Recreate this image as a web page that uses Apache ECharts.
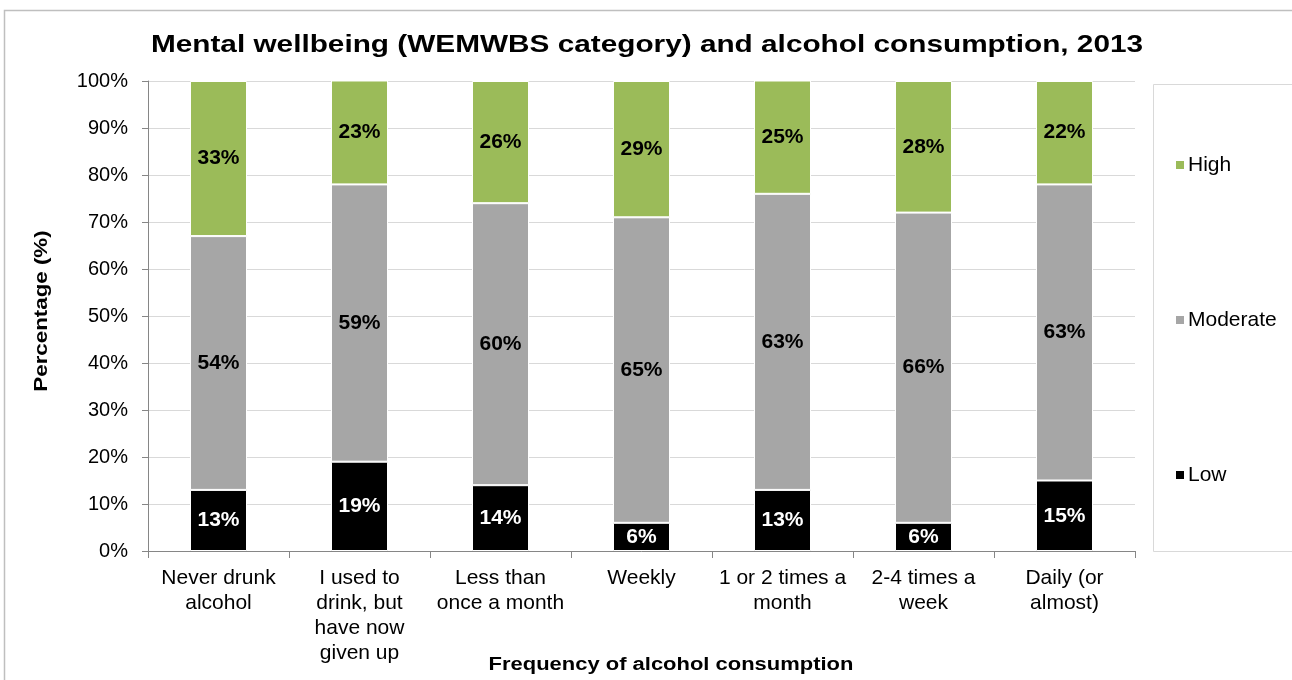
<!DOCTYPE html>
<html>
<head>
<meta charset="utf-8">
<script src="https://cdn.jsdelivr.net/npm/echarts@6/dist/echarts.min.js"></script>
<style>
  html, body { margin: 0; padding: 0; background: #fff; }
  #chart { width: 1292px; height: 680px; }
</style>
</head>
<body>
<div id="chart"></div>
<script>
// Frequency of alcohol consumption (x categories)
const categories = [
  'Never drunk\nalcohol',
  'I used to\ndrink, but\nhave now\ngiven up',
  'Less than\nonce a month',
  'Weekly',
  '1 or 2 times a\nmonth',
  '2-4 times a\nweek',
  'Daily (or\nalmost)'
];
// WEMWBS category shares, % of each group
const lowValues = [13, 19, 14, 6, 13, 6, 15];
const moderateValues = [54, 59, 60, 65, 63, 66, 63];
const highValues = [33, 23, 26, 29, 25, 28, 22];
const yTicks = [0, 10, 20, 30, 40, 50, 60, 70, 80, 90, 100];

const FONT = '"Liberation Sans", Arial, sans-serif';

function segment(name, values, color, labelColor) {
  return {
    name: name,
    type: 'bar',
    stack: 'total',
    data: values,
    barWidth: 57,
    itemStyle: { color: color, borderColor: '#ffffff', borderWidth: 1 },
    label: {
      show: true,
      position: 'inside',
      formatter: '{c}%',
      color: labelColor,
      fontFamily: FONT,
      fontWeight: 'bold',
      fontSize: 21
    }
  };
}

const chart = echarts.init(document.getElementById('chart'), null, { renderer: 'canvas' });
chart.setOption({
  animation: false,
  backgroundColor: '#ffffff',
  graphic: [
    {
      type: 'rect',
      shape: { x: 4.5, y: 10.5, width: 1400, height: 800 },
      style: { fill: 'none', stroke: '#BFBFBF', lineWidth: 1.5 },
      silent: true,
      z: -10
    },
    {
      type: 'rect',
      shape: { x: 1153.5, y: 84.5, width: 200, height: 467 },
      style: { fill: 'none', stroke: '#D9D9D9', lineWidth: 1 },
      silent: true
    },
    {
      // chart title
      type: 'text',
      x: 647,
      y: 45,
      scaleX: 1.24,
      style: {
        text: 'Mental wellbeing (WEMWBS category) and alcohol consumption, 2013',
        fontFamily: FONT, fontWeight: 'bold', fontSize: 24, fill: '#000',
        align: 'center', verticalAlign: 'middle'
      }
    },
    {
      // x axis title
      type: 'text',
      x: 671,
      y: 665,
      scaleX: 1.22,
      style: {
        text: 'Frequency of alcohol consumption',
        fontFamily: FONT, fontWeight: 'bold', fontSize: 18, fill: '#000',
        align: 'center', verticalAlign: 'middle'
      }
    },
    {
      // y axis title
      type: 'text',
      x: 42,
      y: 311,
      rotation: Math.PI / 2,
      scaleX: 1.24,
      style: {
        text: 'Percentage (%)',
        fontFamily: FONT, fontWeight: 'bold', fontSize: 18, fill: '#000',
        align: 'center', verticalAlign: 'middle'
      }
    }
  ],
  legend: {
    orient: 'vertical',
    left: 1169,
    top: 149,
    itemWidth: 10,
    itemHeight: 10,
    itemGap: 133,
    icon: 'rect',
    data: ['High', 'Moderate', 'Low'],
    textStyle: { fontFamily: FONT, fontSize: 21, color: '#000', lineHeight: 22, padding: [0, 0, 0, -2] }
  },
  grid: { left: 148, right: 157, top: 81, bottom: 129, containLabel: false },
  xAxis: {
    type: 'category',
    data: categories,
    axisLine: { lineStyle: { color: '#868686', width: 1 } },
    axisTick: { show: true, alignWithLabel: false, length: 7, lineStyle: { color: '#868686' } },
    axisLabel: {
      interval: 0,
      fontFamily: FONT, fontSize: 21, color: '#000',
      lineHeight: 25, margin: 15
    }
  },
  yAxis: {
    type: 'value',
    min: 0,
    max: 100,
    interval: 10,
    axisLine: { show: true, lineStyle: { color: '#868686' } },
    axisTick: { show: true, length: 6, lineStyle: { color: '#868686' } },
    splitLine: { lineStyle: { color: '#D9D9D9', width: 1 } },
    axisLabel: {
      fontFamily: FONT, fontSize: 20, color: '#000', margin: 20,
      formatter: function (v) { return yTicks.indexOf(v) >= 0 ? v + '%' : ''; }
    }
  },
  series: [
    segment('Low', lowValues, '#000000', '#ffffff'),
    segment('Moderate', moderateValues, '#A6A6A6', '#000000'),
    segment('High', highValues, '#9BBB59', '#000000')
  ]
});
</script>
</body>
</html>
